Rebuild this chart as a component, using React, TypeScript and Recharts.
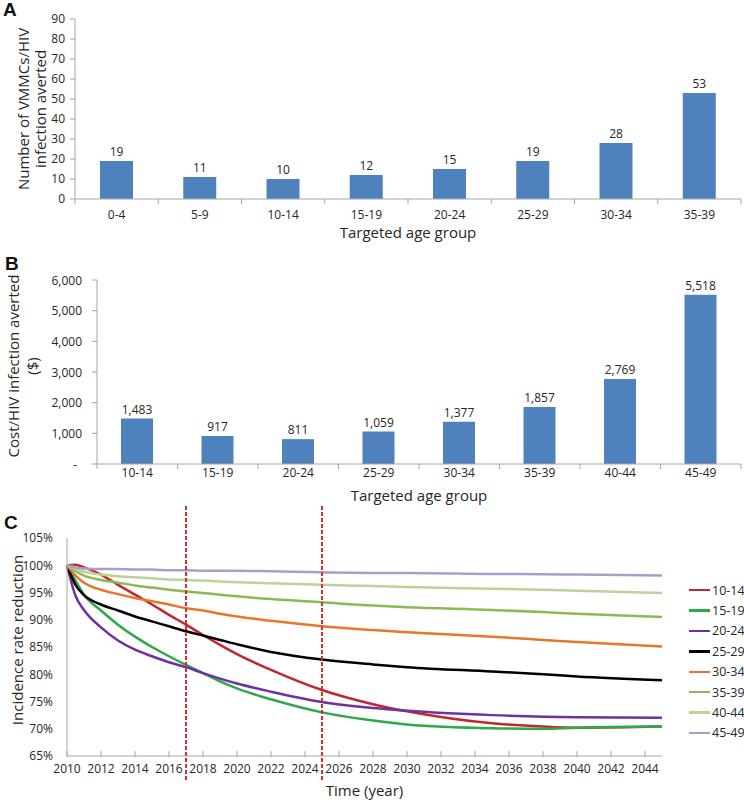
import React from 'react';
import { BarChart, Bar, XAxis, YAxis, LabelList, LineChart, Line, ReferenceLine } from 'recharts';

const FONT = '"Open Sans", "DejaVu Sans", sans-serif';
const TEXT = '#262626';
const AXIS = '#a6a6a6';
const BAR = '#4f81bd';

// Panel A - VMMCs needed per HIV infection averted
const ageGroupsA = ['0-4', '5-9', '10-14', '15-19', '20-24', '25-29', '30-34', '35-39'];
const vmmcsPerInfection = [19, 11, 10, 12, 15, 19, 28, 53];
const ticksA = [0, 10, 20, 30, 40, 50, 60, 70, 80, 90];

// Panel B - cost per HIV infection averted ($)
const ageGroupsB = ['10-14', '15-19', '20-24', '25-29', '30-34', '35-39', '40-44', '45-49'];
const costPerInfection = [1483, 917, 811, 1059, 1377, 1857, 2769, 5518];
const ticksB = [0, 1000, 2000, 3000, 4000, 5000, 6000];

// Panel C - incidence rate reduction over time (%)
const years = [2010, 2010.5, 2011, 2012, 2013, 2014, 2015, 2016, 2017, 2018, 2019, 2020, 2022, 2025, 2028, 2030, 2035, 2038, 2040, 2045];
const inc10_14 = [100, 100.1, 99.6, 98.3, 96.4, 94.6, 92.8, 90.9, 89.1, 87.2, 85.4, 83.7, 80.8, 77.1, 74.5, 73.2, 71.0, 70.4, 70.2, 70.4];
const inc15_19 = [100, 97.2, 94.6, 91.7, 89.1, 86.9, 85.0, 83.3, 81.7, 80.2, 78.7, 77.4, 75.4, 73.0, 71.5, 70.8, 70.1, 70.0, 70.2, 70.4];
const inc20_24 = [100, 94.4, 91.8, 88.6, 86.2, 84.5, 83.3, 82.2, 81.3, 80.2, 79.2, 78.3, 76.8, 74.9, 73.8, 73.3, 72.5, 72.2, 72.1, 72.0];
const inc25_29 = [100, 96.4, 94.5, 92.8, 91.7, 90.6, 89.7, 88.8, 87.9, 87.1, 86.3, 85.5, 84.1, 82.7, 81.8, 81.3, 80.5, 80.0, 79.6, 78.9];
const inc30_34 = [100, 98.1, 96.8, 95.5, 94.7, 94.0, 93.4, 92.8, 92.1, 91.7, 91.1, 90.6, 89.8, 88.8, 88.1, 87.7, 86.9, 86.3, 85.9, 85.1];
const inc35_39 = [100, 98.9, 98.1, 97.3, 96.8, 96.3, 95.9, 95.5, 95.2, 94.9, 94.6, 94.3, 93.8, 93.2, 92.6, 92.3, 91.8, 91.4, 91.1, 90.5];
const inc40_44 = [100, 99.3, 98.8, 98.3, 98.0, 97.8, 97.6, 97.4, 97.3, 97.2, 97.0, 96.9, 96.7, 96.4, 96.2, 96.0, 95.7, 95.5, 95.3, 94.9];
const inc45_49 = [100, 99.6, 99.4, 99.3, 99.3, 99.2, 99.2, 99.1, 99.1, 99.0, 99.0, 99.0, 98.9, 98.7, 98.6, 98.6, 98.4, 98.35, 98.3, 98.1];
const ageGroupsC = ['10-14', '15-19', '20-24', '25-29', '30-34', '35-39', '40-44', '45-49'];
const seriesC = [inc10_14, inc15_19, inc20_24, inc25_29, inc30_34, inc35_39, inc40_44, inc45_49];
const colorsC = ['#c0282d', '#2ea84c', '#7030a0', '#000000', '#e8762d', '#8cb855', '#b9d39a', '#a99dc9'];
const yearTicks = [2010, 2012, 2014, 2016, 2018, 2020, 2022, 2024, 2026, 2028, 2030, 2032, 2034, 2036, 2038, 2040, 2042, 2044];
const pctTicks = [65, 70, 75, 80, 85, 90, 95, 100, 105];
const markerYears = [2017, 2025];

const dataA = ageGroupsA.map((group, i) => ({ group, value: vmmcsPerInfection[i] }));
const dataB = ageGroupsB.map((group, i) => ({ group, value: costPerInfection[i] }));
const dataC = years.map((year, i) => {
  const row: Record<string, number> = { year };
  ageGroupsC.forEach((g, s) => { row[g] = seriesC[s][i]; });
  return row;
});

const CHART_W = 744;
const A_LEFT = 75;
const B_LEFT = 97;
const RIGHT = 3;

// category tick: label in the band centre, tick marks at band edges
const BandTick = (props: any) => {
  const { x, y, payload, index, band, count, dy } = props;
  const half = band / 2;
  return (
    <g>
      <line x1={x - half} x2={x - half} y1={y} y2={y + 5} stroke={AXIS} />
      {index === count - 1 && <line x1={x + half} x2={x + half} y1={y} y2={y + 5} stroke={AXIS} />}
      <text x={x} y={y + dy} textAnchor="middle" dominantBaseline="central" fontSize={12} fill={TEXT} fontFamily={FONT}>
        {payload.value}
      </text>
    </g>
  );
};

const YearTick = (props: any) => {
  const { x, y, payload } = props;
  return (
    <g>
      <line x1={x} x2={x} y1={y - 5} y2={y + 1} stroke={AXIS} />
      <text x={x} y={y + 12} textAnchor="middle" dominantBaseline="central" fontSize={12} fill={TEXT} fontFamily={FONT}>
        {payload.value}
      </text>
    </g>
  );
};

const CostTick = (props: any) => {
  const { x, y, payload } = props;
  const v = payload.value;
  return (
    <text x={v === 0 ? x - 5 : x} y={y} textAnchor="end" dominantBaseline="central" fontSize={12} fill={TEXT} fontFamily={FONT}>
      {v === 0 ? '-' : v.toLocaleString('en-US')}
    </text>
  );
};

const yTitle = (lines: string[], xs: number[], shift = 0) => (props: any) => {
  const vb = props.viewBox || {};
  const cy = (vb.y ?? 0) + (vb.height ?? 0) / 2 + shift;
  return (
    <g>
      {lines.map((t, i) => (
        <text key={i} x={xs[i]} y={cy} transform={`rotate(-90 ${xs[i]} ${cy})`} textAnchor="middle"
          dominantBaseline="central" fontSize={15} fill={TEXT} fontFamily={FONT}>
          {t}
        </text>
      ))}
    </g>
  );
};

const xTitle = (text: string, dy: number) => (props: any) => {
  const vb = props.viewBox || {};
  return (
    <text x={(vb.x ?? 0) + (vb.width ?? 0) / 2} y={(vb.y ?? 0) + dy} textAnchor="middle" dominantBaseline="central"
      fontSize={15} fill={TEXT} fontFamily={FONT}>
      {text}
    </text>
  );
};

const DashedMarker = (props: any) => {
  const { x1, y1, y2 } = props;
  return (
    <line x1={x1} x2={x1} y1={Math.min(y1, y2) - 32} y2={Math.max(y1, y2) + 26}
      stroke="#dc2a2a" strokeWidth={2} strokeDasharray="4 2" />
  );
};

const panelLetter = (letter: string, top: number, left: number) => (
  <div style={{ position: 'absolute', top, left, fontFamily: '"Liberation Sans", Arial, sans-serif', fontWeight: 700, fontSize: 19, color: '#111', lineHeight: '20px' }}>
    {letter}
  </div>
);

export default function App() {
  const bandA = (CHART_W - A_LEFT - RIGHT) / ageGroupsA.length;
  const bandB = (CHART_W - B_LEFT - RIGHT) / ageGroupsB.length;

  return (
    <div style={{ position: 'absolute', left: 0, top: 0, width: 744, height: 800, background: '#fff', fontFamily: FONT, overflow: 'hidden' }}>
      <div style={{ position: 'absolute', left: 0, top: 0 }}>
        <BarChart width={CHART_W} height={242} data={dataA} margin={{ top: 19, right: RIGHT, bottom: 0, left: 0 }}>
          <XAxis dataKey="group" height={43} axisLine={{ stroke: AXIS }} tickLine={false} tickSize={0} tickMargin={0} interval={0}
            tick={(p: any) => <BandTick {...p} band={bandA} count={ageGroupsA.length} dy={15} />}
            label={xTitle('Targeted age group', 33)} />
          <YAxis width={A_LEFT} domain={[0, 90]} ticks={ticksA} interval={0} axisLine={{ stroke: AXIS }} tickLine={{ stroke: AXIS }}
            tickSize={5} tickMargin={5} tick={{ fontSize: 12, fill: TEXT, fontFamily: FONT }}
            label={yTitle(['Number of VMMCs/HIV', 'infection averted'], [23, 40])} />
          <Bar dataKey="value" fill={BAR} barSize={33} isAnimationActive={false}>
            <LabelList dataKey="value" position="top" offset={5} fontSize={12} fill={TEXT} fontFamily={FONT} />
          </Bar>
        </BarChart>
      </div>

      <div style={{ position: 'absolute', left: 0, top: 242 }}>
        <BarChart width={CHART_W} height={268} data={dataB} margin={{ top: 38, right: RIGHT, bottom: 0, left: 0 }}>
          <XAxis dataKey="group" height={46} axisLine={{ stroke: AXIS }} tickLine={false} tickSize={0} tickMargin={0} interval={0}
            tick={(p: any) => <BandTick {...p} band={bandB} count={ageGroupsB.length} dy={8} />}
            label={xTitle('Targeted age group', 31)} />
          <YAxis width={B_LEFT} domain={[0, 6000]} ticks={ticksB} interval={0} axisLine={{ stroke: AXIS }} tickLine={{ stroke: AXIS }}
            tickSize={5} tickMargin={10} tick={(p: any) => <CostTick {...p} />}
            label={yTitle(['Cost/HIV infection averted', '($)'], [13, 32], -6)} />
          <Bar dataKey="value" fill={BAR} barSize={32} isAnimationActive={false}>
            <LabelList dataKey="value" position="top" offset={5} fontSize={12} fill={TEXT} fontFamily={FONT}
              formatter={(v: any) => Number(v).toLocaleString('en-US')} />
          </Bar>
        </BarChart>
      </div>

      <div style={{ position: 'absolute', left: 0, top: 500 }}>
        <LineChart width={CHART_W} height={300} data={dataC} margin={{ top: 38, right: 82, bottom: 14, left: 0 }}>
          <XAxis dataKey="year" type="number" domain={[2010, 2045]} ticks={yearTicks} interval={0} height={30}
            axisLine={{ stroke: AXIS }} tickLine={false} tickSize={0} tickMargin={0}
            tick={(p: any) => <YearTick {...p} />} label={xTitle('Time (year)', 34)} />
          <YAxis width={67} domain={[65, 105]} ticks={pctTicks} interval={0} axisLine={{ stroke: AXIS }} tickLine={false}
            tickMargin={8} tickFormatter={(v: number) => `${v}%`} tick={{ fontSize: 12, fill: TEXT, fontFamily: FONT }}
            label={yTitle(['Incidence rate reduction'], [17], -7)} />
          {ageGroupsC.map((g, i) => (
            <Line key={g} type="monotone" dataKey={g} stroke={colorsC[i]} strokeWidth={2.5} dot={false} isAnimationActive={false} />
          ))}
          {markerYears.map((yr) => (
            <ReferenceLine key={yr} x={yr} stroke="#dc2a2a" shape={(p: any) => <DashedMarker {...p} />} />
          ))}
        </LineChart>
      </div>

      <div style={{ position: 'absolute', left: 689, top: 580, width: 55 }}>
        {ageGroupsC.map((g, i) => (
          <div key={g} style={{ display: 'flex', alignItems: 'center', height: 20.4, whiteSpace: 'nowrap' }}>
            <span style={{ display: 'inline-block', flex: 'none', width: 21, height: 2.5, background: colorsC[i] }} />
            <span style={{ marginLeft: 2, fontSize: 12.5, color: TEXT, fontFamily: FONT, whiteSpace: 'nowrap' }}>{g}</span>
          </div>
        ))}
      </div>

      {panelLetter('A', 0, 3)}
      {panelLetter('B', 254, 5)}
      {panelLetter('C', 513, 4)}
    </div>
  );
}
